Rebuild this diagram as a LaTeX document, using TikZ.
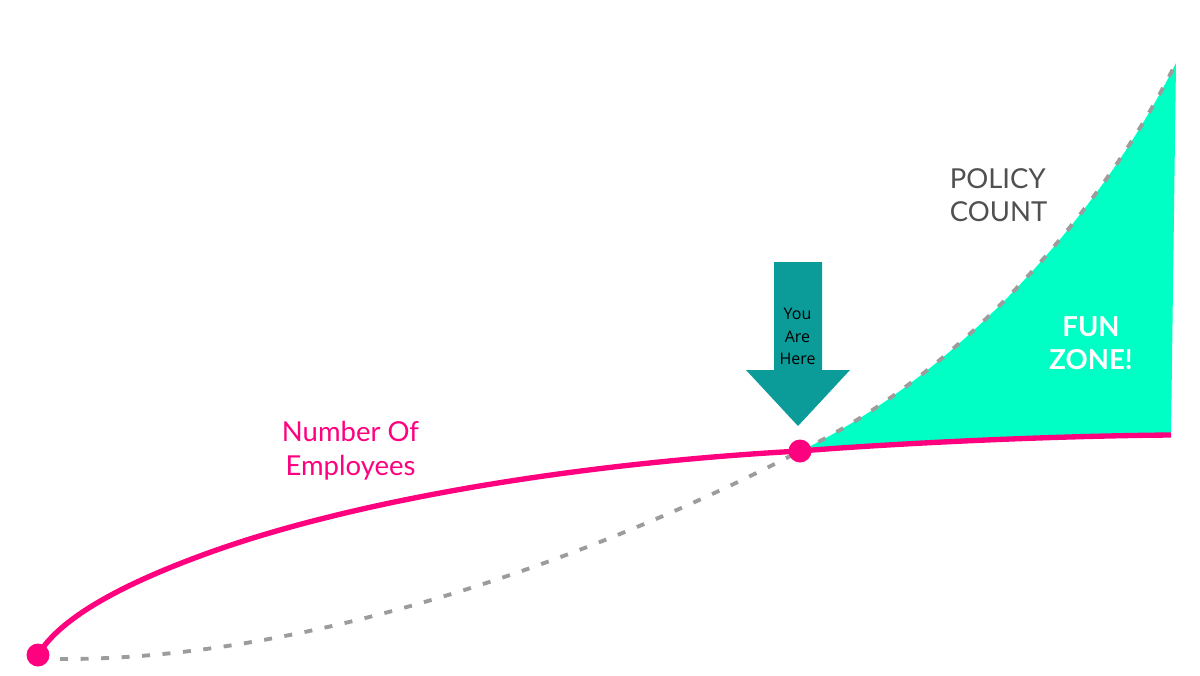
\documentclass[tikz,border=0pt]{standalone}
\usepackage{fontspec}
\setmainfont{Lato}
\newfontfamily\arrowfont{Open Sans}
\definecolor{hotpink}{HTML}{FF007F}
\definecolor{funzone}{HTML}{00FFC4}
\definecolor{dashgrey}{HTML}{9C9C9C}
\definecolor{arrowteal}{HTML}{0B9C99}
\definecolor{policygrey}{HTML}{505050}
\tikzset{
  dotnode/.style={circle,fill=hotpink,draw=none,minimum size=17.25pt,inner sep=0pt},
  employeeline/.style={draw=hotpink,line width=4pt},
  policyline/.style={draw=dashgrey,line width=2.9pt,dash pattern=on 6pt off 9.4pt},
  labeltext/.style={align=center,inner sep=0pt,font=\fontsize{20.6}{25.2}\selectfont},
  arrowtext/.style={align=center,inner sep=0pt,text=black,font=\arrowfont\fontsize{12}{17}\selectfont},
}
\begin{document}
\begin{tikzpicture}[x=0.75pt,y=-0.75pt]
\useasboundingbox (0,0) rectangle (1200,675);
\fill[white] (0,0) rectangle (1200,675);
\coordinate (endpink) at (1171,435);
\coordinate (endpolicy) at (1176,63);
\coordinate (herepoint) at (800,451);
\coordinate (greystart) at (60,659);
% fun zone
\fill[funzone] (herepoint) .. controls (940,385) and (1090,235) .. (endpolicy) -- (endpink) .. controls (1050,436) and (900,443) .. (herepoint) -- cycle;
% grey policy curve
\draw[policyline] (herepoint) .. controls (940,385) and (1090,235) .. (endpolicy);
\draw[policyline] (greystart) .. controls (320,660) and (610,550) .. (herepoint);
% pink curve
\draw[employeeline] (38,655) .. controls (62,614) and (135,580) .. (200,556) .. controls (350,500) and (580,463) .. (herepoint);
\draw[employeeline] (herepoint) .. controls (900,443) and (1050,436) .. (endpink);
\node[dotnode] (start) at (38,655) {};
\node[dotnode] (here) at (800,451) {};
% arrow
\fill[arrowteal] (774,262) -- (822,262) -- (822,370) -- (850,370) -- (798,426) -- (746,370) -- (774,370) -- cycle;
\node[arrowtext] (youarehere) at (797.5,336.5) {You\\Are\\Here};
\node[labeltext,text=hotpink] (employees) at (350.5,451) {Number Of\\Employees};
\node[labeltext,text=policygrey,align=left] (policy) at (998.5,195) {POLICY\\COUNT};
\node[labeltext,text=white,font=\bfseries\fontsize{20.6}{25.2}\selectfont] (fun) at (1091,343) {FUN\\ZONE!};
\end{tikzpicture}
\end{document}
